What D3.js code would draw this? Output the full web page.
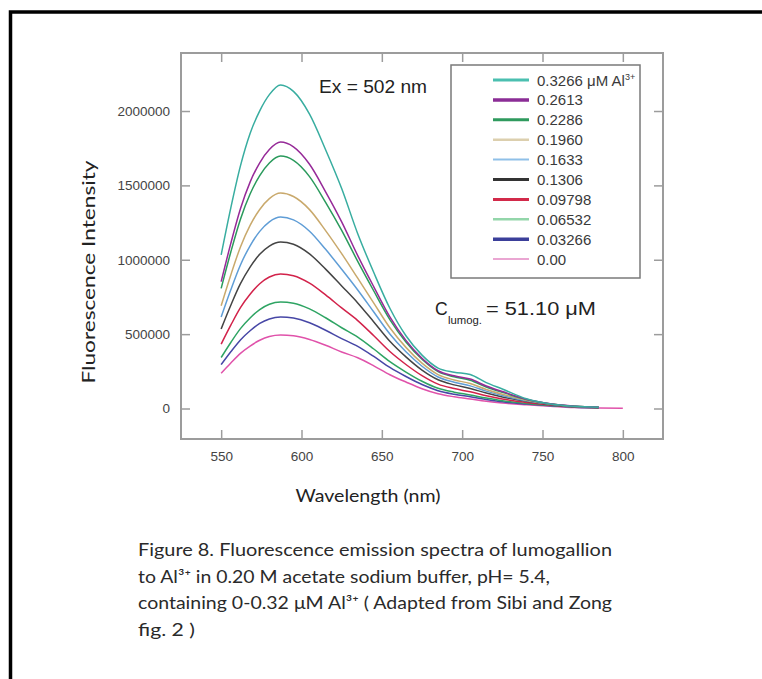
<!DOCTYPE html>
<html>
<head>
<meta charset="utf-8">
<script src="https://cdn.jsdelivr.net/npm/d3@7"></script>
<style>
body{margin:0;background:#fff;}
</style>
</head>
<body>
<div class="box"></div>
<script>
// data
const wl=[550,556,562,568,574,580,587,595,605,615,625,635,645,655,665,675,685,695,705,715,725,740,755,770,785,800];
const al3266=[1033000,1349000,1631000,1849000,2001000,2110000,2175000,2132000,1979000,1740000,1479000,1175000,914000,674000,489000,359000,272000,244000,228000,174000,131000,65000,30000,15000,9000];
const al2613=[853000,1110000,1343000,1522000,1652000,1741000,1791000,1759000,1642000,1457000,1255000,1028000,818000,616000,458000,338000,254000,220000,198000,151000,114000,62000,32000,16000,9000];
const al2286=[808000,1052000,1273000,1442000,1566000,1651000,1697000,1668000,1559000,1386000,1197000,989000,790000,598000,447000,331000,248000,213000,190000,145000,109000,61000,31000,16000,9000];
const al1960=[691000,898000,1086000,1231000,1338000,1411000,1448000,1425000,1337000,1196000,1041000,876000,709000,543000,411000,305000,228000,192000,168000,128000,96000,56000,30000,15000,8000];
const al1633=[615000,798000,965000,1094000,1191000,1255000,1287000,1268000,1192000,1070000,936000,797000,649000,501000,381000,284000,212000,177000,152000,117000,87000,52000,29000,14000,8000];
const al1306=[535000,694000,839000,951000,1037000,1092000,1119000,1104000,1039000,937000,824000,710000,582000,452000,347000,258000,193000,159000,135000,104000,78000,48000,27000,13000,7000];
const al09798=[433000,560000,678000,768000,839000,884000,904000,893000,843000,764000,676000,591000,489000,383000,296000,221000,164000,134000,112000,86000,64000,41000,24000,12000,6000];
const al06532=[343000,444000,537000,609000,665000,701000,716000,708000,670000,610000,543000,480000,400000,315000,245000,183000,136000,110000,91000,70000,52000,34000,20000,10000,5000];
const al03266=[295000,381000,461000,523000,572000,602000,615000,608000,577000,526000,470000,418000,350000,276000,215000,161000,120000,96000,79000,61000,45000,30000,18000,9000,5000];
const al000=[237000,306000,371000,420000,459000,484000,494000,489000,464000,425000,380000,341000,287000,227000,178000,133000,99000,79000,64000,49000,37000,25000,15000,7000,4000,2000];

const labels=['0.3266','0.2613','0.2286','0.1960','0.1633','0.1306','0.09798','0.06532','0.03266','0.00'];
const xTicks=[550,600,650,700,750,800];
const yTicks=[0,500000,1000000,1500000,2000000];

const series=[al3266,al2613,al2286,al1960,al1633,al1306,al09798,al06532,al03266,al000];
const lineCol=['#38ada0','#962a98','#2a9a5c','#c9a96c','#5f9dd6','#444444','#d2224a','#2ea463','#4747a6','#e052aa'];
const keyCol=['#4bbfb0','#8b2d96','#2f9a5e','#dccfae','#8fc0e8','#333333','#d22a4a','#93d6aa','#3b3f9a','#eaa6d2'];
const keyW=[3,3.5,3,2.5,2,3,3,2.5,3.5,2];

const W=762,H=679;
const svg=d3.select('.box').append('svg').attr('width',W).attr('height',H).style('background','white');

// outer frame
svg.append('rect').attr('x',10.5).attr('y',12).attr('width',800).attr('height',720)
  .attr('fill','none').attr('stroke','#000').attr('stroke-width',3.5);

const box={l:181,t:53,r:663,b:439};
const x=d3.scaleLinear().domain([525,825]).range([box.l,box.r]);
const y=d3.scaleLinear().domain([-205000,2390000]).range([box.b,box.t]);

const g=svg.append('g');
const grey='#9c9c9c';

// axes, ticks pointing inward on all four sides
const axB=d3.axisBottom(x).tickValues(xTicks).tickSizeInner(-9).tickSizeOuter(0).tickPadding(12);
const axT=d3.axisTop(x).tickValues(xTicks).tickSizeInner(-9).tickSizeOuter(0).tickFormat('');
const axL=d3.axisLeft(y).tickValues(yTicks).tickSizeInner(-9).tickSizeOuter(0).tickPadding(11).tickFormat(d3.format('d'));
const axR=d3.axisRight(y).tickValues(yTicks).tickSizeInner(-9).tickSizeOuter(0).tickFormat('');

g.append('g').attr('transform',`translate(0,${box.b})`).call(axB);
g.append('g').attr('transform',`translate(0,${box.t})`).call(axT);
g.append('g').attr('transform',`translate(${box.l},0)`).call(axL);
g.append('g').attr('transform',`translate(${box.r},0)`).call(axR);
g.selectAll('.domain').remove();
g.selectAll('.tick line').attr('stroke',grey).attr('stroke-width',1.5);
g.selectAll('.tick text').attr('fill','#444').style('font-family','Liberation Sans, Arial, sans-serif').style('font-size','13.5px');

g.append('rect').attr('x',box.l).attr('y',box.t).attr('width',box.r-box.l).attr('height',box.b-box.t)
  .attr('fill','none').attr('stroke',grey).attr('stroke-width',2);

// spectra
const line=d3.line().x((d,i)=>x(wl[i])).y(d=>y(d)).curve(d3.curveMonotoneX);
g.selectAll('path.spec').data(series.slice().reverse()).enter().append('path')
  .attr('class','spec')
  .attr('d',line)
  .attr('fill','none')
  .attr('stroke',(d,i)=>lineCol[series.length-1-i])
  .attr('stroke-width',1.5);

// legend
const lg=svg.append('g');
lg.append('rect').attr('x',451).attr('y',65).attr('width',189).attr('height',213)
  .attr('fill','white').attr('stroke','#7a7a7a').attr('stroke-width',1.5);
labels.forEach((lab,i)=>{
  const yy=80+i*19.9;
  lg.append('line').attr('x1',493).attr('x2',529).attr('y1',yy).attr('y2',yy)
    .attr('stroke',keyCol[i]).attr('stroke-width',keyW[i]);
  const t=lg.append('text').attr('x',537).attr('y',yy+5.5)
    .attr('fill','#3a3a3a').style('font-family','Liberation Sans, Arial, sans-serif').style('font-size','15px');
  if(i===0){
    t.text(lab+' μM Al');
    t.append('tspan').attr('dy',-6).style('font-size','9px').text('3+');
  } else t.text(lab);
});

// annotations
const ann=svg.append('g').style('font-family','Liberation Sans, Arial, sans-serif').attr('fill','#222');
ann.append('text').attr('x',319).attr('y',93).style('font-size','18px')
  .attr('textLength',108).attr('lengthAdjust','spacingAndGlyphs').text('Ex = 502 nm');
ann.append('text').attr('x',435).attr('y',315).style('font-size','17.5px').text('C');
ann.append('text').attr('x',448).attr('y',324).style('font-size','11px')
  .attr('textLength',34).attr('lengthAdjust','spacingAndGlyphs').text('lumog.');
ann.append('text').attr('x',486).attr('y',315).style('font-size','18px')
  .attr('textLength',110).attr('lengthAdjust','spacingAndGlyphs').text('=  51.10 μM');

// axis titles
svg.append('text').attr('x',368).attr('y',502).attr('text-anchor','middle')
  .attr('fill','#222').style('font-family','Lato, sans-serif').style('font-size','17px')
  .attr('textLength',145).attr('lengthAdjust','spacingAndGlyphs').text('Wavelength (nm)');
svg.append('text').attr('transform','translate(95,272) rotate(-90)').attr('text-anchor','middle')
  .attr('fill','#222').style('font-family','Lato, sans-serif').style('font-size','17px')
  .attr('textLength',223).attr('lengthAdjust','spacingAndGlyphs').text('Fluorescence Intensity');

// caption
const cap=[
  ['Figure 8. Fluorescence emission spectra of lumogallion',474],
  ['to Al³⁺ in 0.20 M  acetate sodium buffer, pH= 5.4,',412],
  ['containing 0-0.32 μM Al³⁺ ( Adapted from Sibi and Zong',474],
  ['fig. 2 )',57]
];
cap.forEach((c,i)=>{
  svg.append('text').attr('x',138).attr('y',556+i*26.5)
    .attr('fill','#2a2a2a').style('font-family','Lato, sans-serif').style('font-size','17px')
    .attr('textLength',c[1]).attr('lengthAdjust','spacingAndGlyphs').text(c[0]);
});
</script>
</body>
</html>
